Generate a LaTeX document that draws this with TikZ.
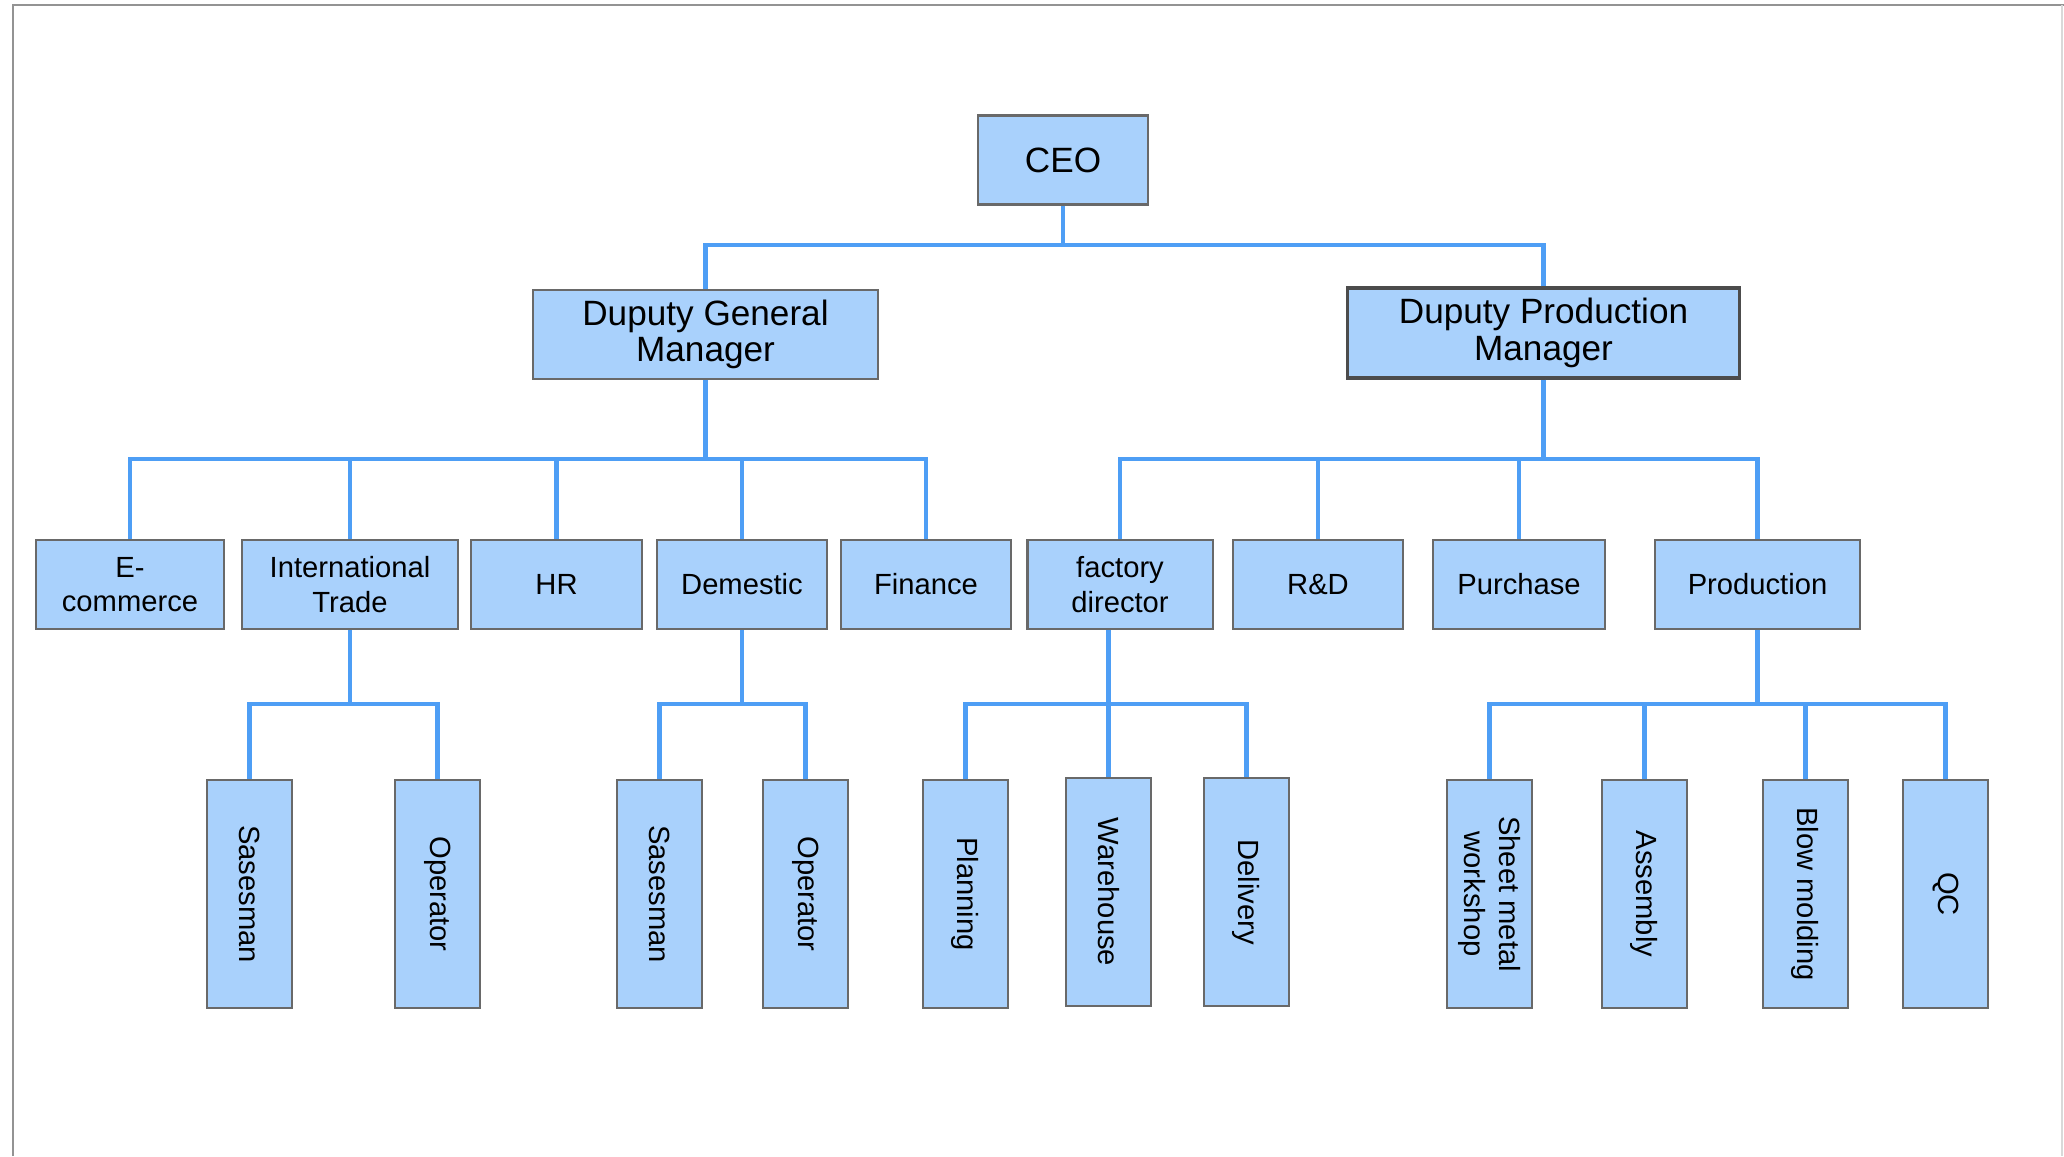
\documentclass[tikz,border=0pt]{standalone}
\usepackage{fontspec}
\setmainfont{Liberation Sans}
\usepackage{tikz}
\usetikzlibrary{positioning}

\definecolor{boxfill}{RGB}{169,209,252}
\definecolor{boxline}{RGB}{105,105,105}
\definecolor{linkblue}{RGB}{78,158,245}

\tikzset{
  box/.style={draw=boxline, line width=0.6pt, fill=boxfill, inner sep=1pt, align=center},
  bigbox/.style={box, font=\fontsize{10}{10.4}\selectfont, minimum height=0.89cm},
  midbox/.style={box, font=\fontsize{8.3}{9.7}\selectfont, minimum height=0.89cm},
  vbox/.style={box, rotate=-90, font=\fontsize{8.3}{9.7}\selectfont, minimum width=2.28cm, minimum height=0.85cm},
  link/.style={draw=linkblue, line width=1.2pt}
}

\begin{document}
\begin{tikzpicture}[x=0.01cm, y=-0.01cm]
        \useasboundingbox (0,0) rectangle (2064,1156);
        % frame
        \draw[gray!85, line width=0.8pt] (13,1156) -- (13,5) -- (2064,5);
        \draw[gray!30, line width=0.6pt] (2062,5) -- (2062,1156);

        % top
        \node[bigbox, minimum width=1.70cm] (ceo) at (1063,160) {CEO};
        \node[bigbox, minimum width=3.45cm] (dgm) at (705.5,334.5) {Duputy General\\Manager};
        \node[bigbox, minimum width=3.91cm, minimum height=0.90cm, draw=black!70, line width=0.9pt] (dpm) at (1543.5,333) {Duputy Production\\Manager};

        % departments
        \node[midbox, minimum width=1.88cm] (ecom) at (130,584.5) {E-\\commerce};
        \node[midbox, minimum width=2.16cm] (intl) at (350,584.5) {International\\Trade};
        \node[midbox, minimum width=1.71cm] (hr) at (556.5,584.5) {HR};
        \node[midbox, minimum width=1.70cm] (dom) at (742,584.5) {Demestic};
        \node[midbox, minimum width=1.70cm] (fin) at (926,584.5) {Finance};
        \node[midbox, minimum width=1.85cm] (fac) at (1120,584.5) {factory\\director};
        \node[midbox, minimum width=1.70cm] (rnd) at (1318,584.5) {R\&D};
        \node[midbox, minimum width=1.72cm] (pur) at (1519,584.5) {Purchase};
        \node[midbox, minimum width=2.05cm] (prod) at (1757.5,584.5) {Production};

        % staff (text runs downwards)
        \node[vbox] (sales1) at (249.5,894) {Sasesman};
        \node[vbox] (oper1) at (437.5,894) {Operator};
        \node[vbox] (sales2) at (659.5,894) {Sasesman};
        \node[vbox] (oper2) at (805.5,894) {Operator};
        \node[vbox] (plan) at (965.5,894) {Planning};
        \node[vbox] (ware) at (1108.5,892) {Warehouse};
        \node[vbox] (deliv) at (1246.5,892) {Delivery};
        \node[vbox] (sheet) at (1489.5,894) {Sheet metal\\workshop};
        \node[vbox] (assem) at (1644.5,894) {Assembly};
        \node[vbox] (blow) at (1805.5,894) {Blow molding};
        \node[vbox] (qc) at (1945.5,894) {QC};

        % joints on the buses
        \coordinate (jceo) at (ceo.south |- 0,245);
        \coordinate (jdgm) at (dgm.south |- 0,459);
        \coordinate (jdpm) at (dpm.south |- 0,459);
        \coordinate (jintl) at (intl.south |- 0,704);
        \coordinate (jdom) at (dom.south |- 0,704);
        \coordinate (jfac) at (ware.center |- 0,704);
        \coordinate (jprod) at (prod.south |- 0,704);

        \draw[link] (ceo) -- (jceo);
        \draw[link] (dgm) |- (jceo);
        \draw[link] (dpm) |- (jceo);

        \draw[link] (dgm) -- (jdgm);
        \foreach \n in {ecom,intl,hr,dom,fin}
            \draw[link] (\n) |- (jdgm);
        \draw[link] (dpm) -- (jdpm);
        \foreach \n in {fac,rnd,pur,prod}
            \draw[link] (\n) |- (jdpm);

        \draw[link] (intl) -- (jintl);
        \foreach \n in {sales1,oper1}
            \draw[link] (\n) |- (jintl);
        \draw[link] (dom) -- (jdom);
        \foreach \n in {sales2,oper2}
            \draw[link] (\n) |- (jdom);
        \draw[link] (fac.south -| jfac) -- (jfac);
        \foreach \n in {plan,ware,deliv}
            \draw[link] (\n) |- (jfac);
        \draw[link] (prod) -- (jprod);
        \foreach \n in {sheet,assem,blow,qc}
            \draw[link] (\n) |- (jprod);
    \end{tikzpicture}
\end{document}
